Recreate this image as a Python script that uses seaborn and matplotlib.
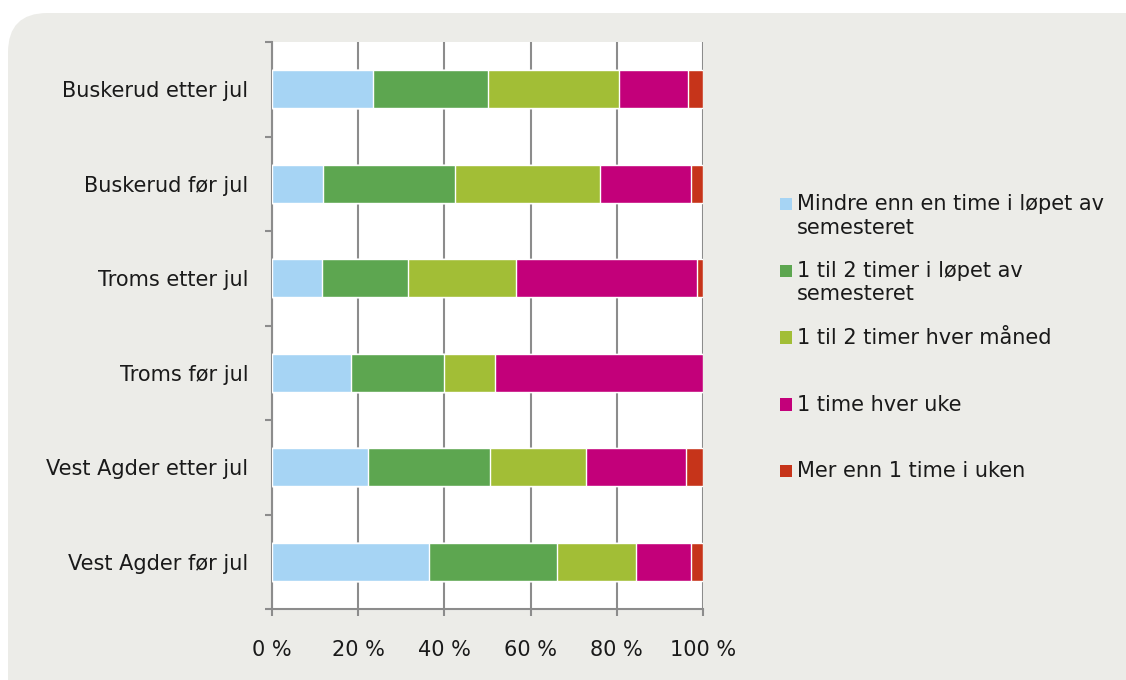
import numpy as np
import pandas as pd
import matplotlib
matplotlib.use("Agg")
import matplotlib.pyplot as plt
from matplotlib.patches import FancyBboxPatch, Patch, Rectangle
from matplotlib.legend_handler import HandlerPatch
import seaborn as sns

groups = ["Buskerud etter jul", "Buskerud før jul", "Troms etter jul",
          "Troms før jul", "Vest Agder etter jul", "Vest Agder før jul"]
series = ["Mindre enn en time i løpet av\nsemesteret",
          "1 til 2 timer i løpet av\nsemesteret",
          "1 til 2 timer hver måned",
          "1 time hver uke",
          "Mer enn 1 time i uken"]
mindre = [23.4, 11.8, 11.6, 18.3, 22.3, 36.4]
en_to_semester = [26.7, 30.6, 20.0, 21.6, 28.3, 29.7]
en_to_maaned = [30.4, 33.6, 25.1, 11.8, 22.3, 18.3]
en_time_uke = [16.0, 21.1, 41.8, 48.3, 23.2, 12.8]
mer_enn = [3.5, 2.9, 1.6, 0.0, 3.9, 2.8]
colors = ["#A6D4F4", "#5DA650", "#A2BE36", "#C3007A", "#C6341A"]

vals = np.array([mindre, en_to_semester, en_to_maaned, en_time_uke, mer_enn])
cum = vals.cumsum(axis=0)

FS = 15

sns.set_style("white")
plt.rcParams["font.family"] = ["DejaVu Sans"]
plt.rcParams["text.color"] = "#1A1A1A"

fig = plt.figure(figsize=(11.26, 6.8), dpi=100)
fig.patch.set_facecolor("white")
bg = FancyBboxPatch((8 / 1126, -0.1), 1.2, 1 - 13 / 680 + 0.1,
                    boxstyle="round,pad=0,rounding_size=0.035",
                    transform=fig.transFigure, facecolor="#ECECE8",
                    edgecolor="none", zorder=-10, mutation_aspect=1126 / 680)
fig.patches.append(bg)

ax = fig.add_axes([272 / 1126, 1 - 609 / 680, 431 / 1126, 567 / 680])
ax.set_facecolor("white")

# stacked: draw from the top cumulative down
for i in range(len(series) - 1, -1, -1):
    df = pd.DataFrame({"grp": groups, "val": cum[i]})
    sns.barplot(data=df, x="val", y="grp", orient="h", color=colors[i],
                saturation=1, width=0.4, ax=ax, zorder=3)

ax.set_xlim(0, 100)
ax.set_ylim(5.5, -0.5)
ax.set_xticks([0, 20, 40, 60, 80, 100])
ax.set_xticklabels(["0 %", "20 %", "40 %", "60 %", "80 %", "100 %"])
ax.set_xlabel("")
ax.set_ylabel("")
ax.xaxis.grid(True, color="#8C8C8C", linewidth=1.5, zorder=1)
ax.set_axisbelow(True)
for s in ["top", "right"]:
    ax.spines[s].set_visible(False)
for s in ["left", "bottom"]:
    ax.spines[s].set_color("#8C8C8C")
    ax.spines[s].set_linewidth(1.5)

ax.tick_params(axis="x", length=5, width=1.5, color="#8C8C8C", pad=17,
               labelsize=FS, bottom=True, direction="out", labelcolor="#1A1A1A")
ax.tick_params(axis="y", which="major", length=0, pad=17, labelsize=FS,
               labelcolor="#1A1A1A")
ax.set_yticks(np.arange(-0.5, 6.0, 1.0), minor=True)
ax.tick_params(axis="y", which="minor", length=5, width=1.5, color="#8C8C8C",
               left=True, direction="out")


def square_up(legend, orig_handle, xdescent, ydescent, width, height, fontsize):
    # put the square next to the first text line
    return Rectangle((-xdescent, -ydescent + 0.6 * fontsize), width, height)


handles = [Patch(facecolor=c, edgecolor="none") for c in colors]
labels = [s if "\n" in s else s + "\n " for s in series]
fig.legend(handles, labels, loc="upper left",
           bbox_to_anchor=(772 / 1126, 1 - 186 / 680),
           frameon=False, fontsize=FS, handlelength=0.55, handleheight=0.55,
           handletextpad=0.25, labelspacing=1.13, borderaxespad=0,
           handler_map={Patch: HandlerPatch(patch_func=square_up)})

fig.savefig("out.png", dpi=100, facecolor=fig.get_facecolor())
